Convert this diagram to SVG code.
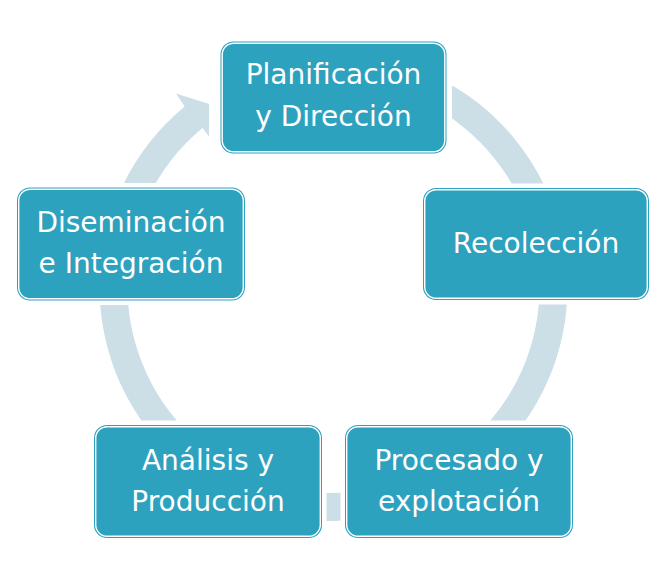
<svg xmlns="http://www.w3.org/2000/svg" width="661" height="588" viewBox="0 0 661 588">
<style>
.box{fill:#2DA2BF;}
.inner{fill:none;stroke:#FFFFFF;stroke-width:1.4;}
.lbl{font-family:"DejaVu Sans","Liberation Sans",sans-serif;font-size:28px;fill:#FFFFFF;text-anchor:middle;}
.ring{fill:#CCDFE7;}
</style>
<defs>
<mask id="cut" maskUnits="userSpaceOnUse" x="0" y="0" width="661" height="588">
<rect x="0" y="0" width="661" height="588" fill="#FFFFFF"/>
<rect x="209" y="37" width="243" height="121" fill="#000000"/>
<rect x="418.5" y="183.5" width="235" height="121" fill="#000000"/>
<rect x="12.5" y="183" width="237" height="122" fill="#000000"/>
<rect x="89.5" y="420.5" width="237" height="122" fill="#000000"/>
<rect x="340.5" y="420.5" width="237" height="122" fill="#000000"/>
</mask>
</defs>
<rect x="0" y="0" width="661" height="588" fill="#FFFFFF"/>
<g id="connectors">
<path class="ring" mask="url(#cut)" d="M 413.5 67.1 A 234 234 0 1 1 184.7 106.4 L 176 93.5 L 222 108 L 211.4 139.5 L 202.5 128 A 206 206 0 1 0 404 93.4 Z"/>
</g>
<g id="node-planificacion">
<rect class="box" x="220.5" y="41.5" width="226" height="112" rx="13"/>
<rect class="inner" x="222.2" y="43.2" width="222.6" height="108.6" rx="11.5"/>
<text class="lbl" x="333.5" y="84">Planificación</text>
<text class="lbl" x="333.5" y="126">y Dirección</text>
</g>
<g id="node-recoleccion">
<rect class="box" x="423" y="188" width="226" height="112" rx="13"/>
<rect class="inner" x="424.7" y="189.7" width="222.6" height="108.6" rx="11.5"/>
<text class="lbl" x="536" y="253">Recolección</text>
</g>
<g id="node-procesado">
<rect class="box" x="345" y="425" width="228" height="113" rx="13"/>
<rect class="inner" x="346.7" y="426.7" width="224.6" height="109.6" rx="11.5"/>
<text class="lbl" x="459" y="469.5">Procesado y</text>
<text class="lbl" x="459" y="510.5">explotación</text>
</g>
<g id="node-analisis">
<rect class="box" x="94" y="425" width="228" height="113" rx="13"/>
<rect class="inner" x="95.7" y="426.7" width="224.6" height="109.6" rx="11.5"/>
<text class="lbl" x="208" y="469.5">Análisis y</text>
<text class="lbl" x="208" y="510.5">Producción</text>
</g>
<g id="node-diseminacion">
<rect class="box" x="17" y="187.5" width="228" height="113" rx="13"/>
<rect class="inner" x="18.7" y="189.2" width="224.6" height="109.6" rx="11.5"/>
<text class="lbl" x="131" y="232">Diseminación</text>
<text class="lbl" x="131" y="272.5">e Integración</text>
</g>
</svg>
